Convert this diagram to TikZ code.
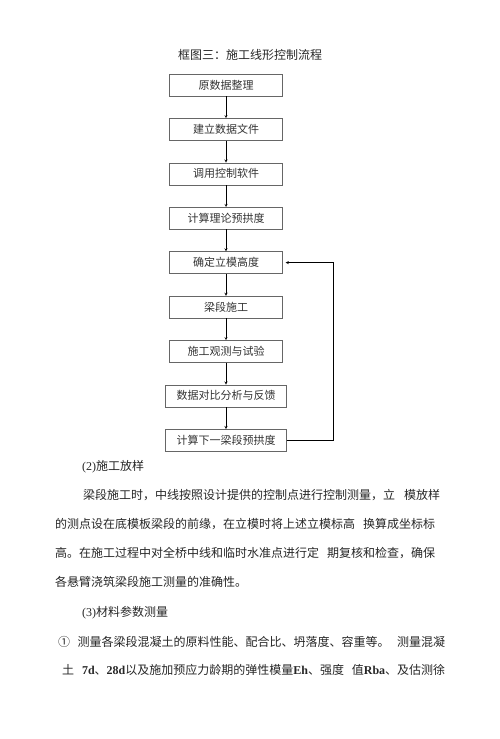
\documentclass[tikz,border=0pt]{standalone}
\usepackage{fontspec}
\setmainfont{Liberation Serif}
\newfontfamily\cjk{Noto Sans CJK SC}
\usepackage{tikz}
\usetikzlibrary{arrows,positioning}
\XeTeXlinebreaklocale "zh"
\XeTeXlinebreakskip=0pt plus 2pt minus 0.5pt

\begin{document}
\begin{tikzpicture}[x=1pt,y=-1pt,>=stealth,node distance=22pt,
  box/.style={draw=black!60,minimum width=113pt,minimum height=22pt,inner xsep=11pt,
    font=\cjk\fontsize{11}{13}\selectfont,text=black!80},
  txt/.style={anchor=west,inner sep=0pt,font=\cjk\fontsize{12}{14}\selectfont,text=black!85}]
\useasboundingbox (0,0) rectangle (500,739);

% Title
\node[font=\cjk\fontsize{12}{14}\selectfont,text=black!85] (title) at (250,55) {框图三：施工线形控制流程};

% Flow boxes
\node[box] (b1) at (226,85) {原数据整理};
\node[box,below=of b1] (b2) {建立数据文件};
\node[box,below=of b2] (b3) {调用控制软件};
\node[box,below=of b3] (b4) {计算理论预拱度};
\node[box,below=of b4] (b5) {确定立模高度};
\node[box,below=of b5] (b6) {梁段施工};
\node[box,below=of b6] (b7) {施工观测与试验};
\node[box,below=of b7] (b8) {数据对比分析与反馈};
\node[box,below=of b8] (b9) {计算下一梁段预拱度};

\foreach \a/\b in {b1/b2,b2/b3,b3/b4,b4/b5,b5/b6,b6/b7,b7/b8,b8/b9}
    \draw[->] (\a) -- (\b);

% Feedback loop
\coordinate (fb) at (333,438);
\draw[->,shorten >=3pt] (b9.east) -- (b9.east -| fb) |- (b5.east);

% Text below
\node[txt] (s2) at (82,467) {{\rmfamily (2)}施工放样};
\node[txt] (p1) at (83,495) {\hbox to 357pt{梁段施工时，中线按照设计提供的控制点进行控制测量，立 模放样}};
\node[txt] (p2) at (55,524) {\hbox to 380pt{的测点设在底模板梁段的前缘，在立模时将上述立模标高 换算成坐标标}};
\node[txt] (p3) at (55,553) {\hbox to 380pt{高。在施工过程中对全桥中线和临时水准点进行定 期复核和检查，确保}};
\node[txt] (p4) at (55,582) {各悬臂浇筑梁段施工测量的准确性。};

\node[txt] (s3) at (82,613) {{\rmfamily (3)}材料参数测量};
\node[txt] (q1) at (58,642) {\hbox to 387pt{① 测量各梁段混凝土的原料性能、配合比、坍落度、容重等。 测量混凝}};
\node[txt] (q2) at (62,670) {\hbox to 383pt{土 {\rmfamily\bfseries 7d}、{\rmfamily\bfseries 28d}以及施加预应力龄期的弹性模量{\rmfamily\bfseries Eh}、强度 值{\rmfamily\bfseries Rba}、及估测徐}};
\end{tikzpicture}
\end{document}
